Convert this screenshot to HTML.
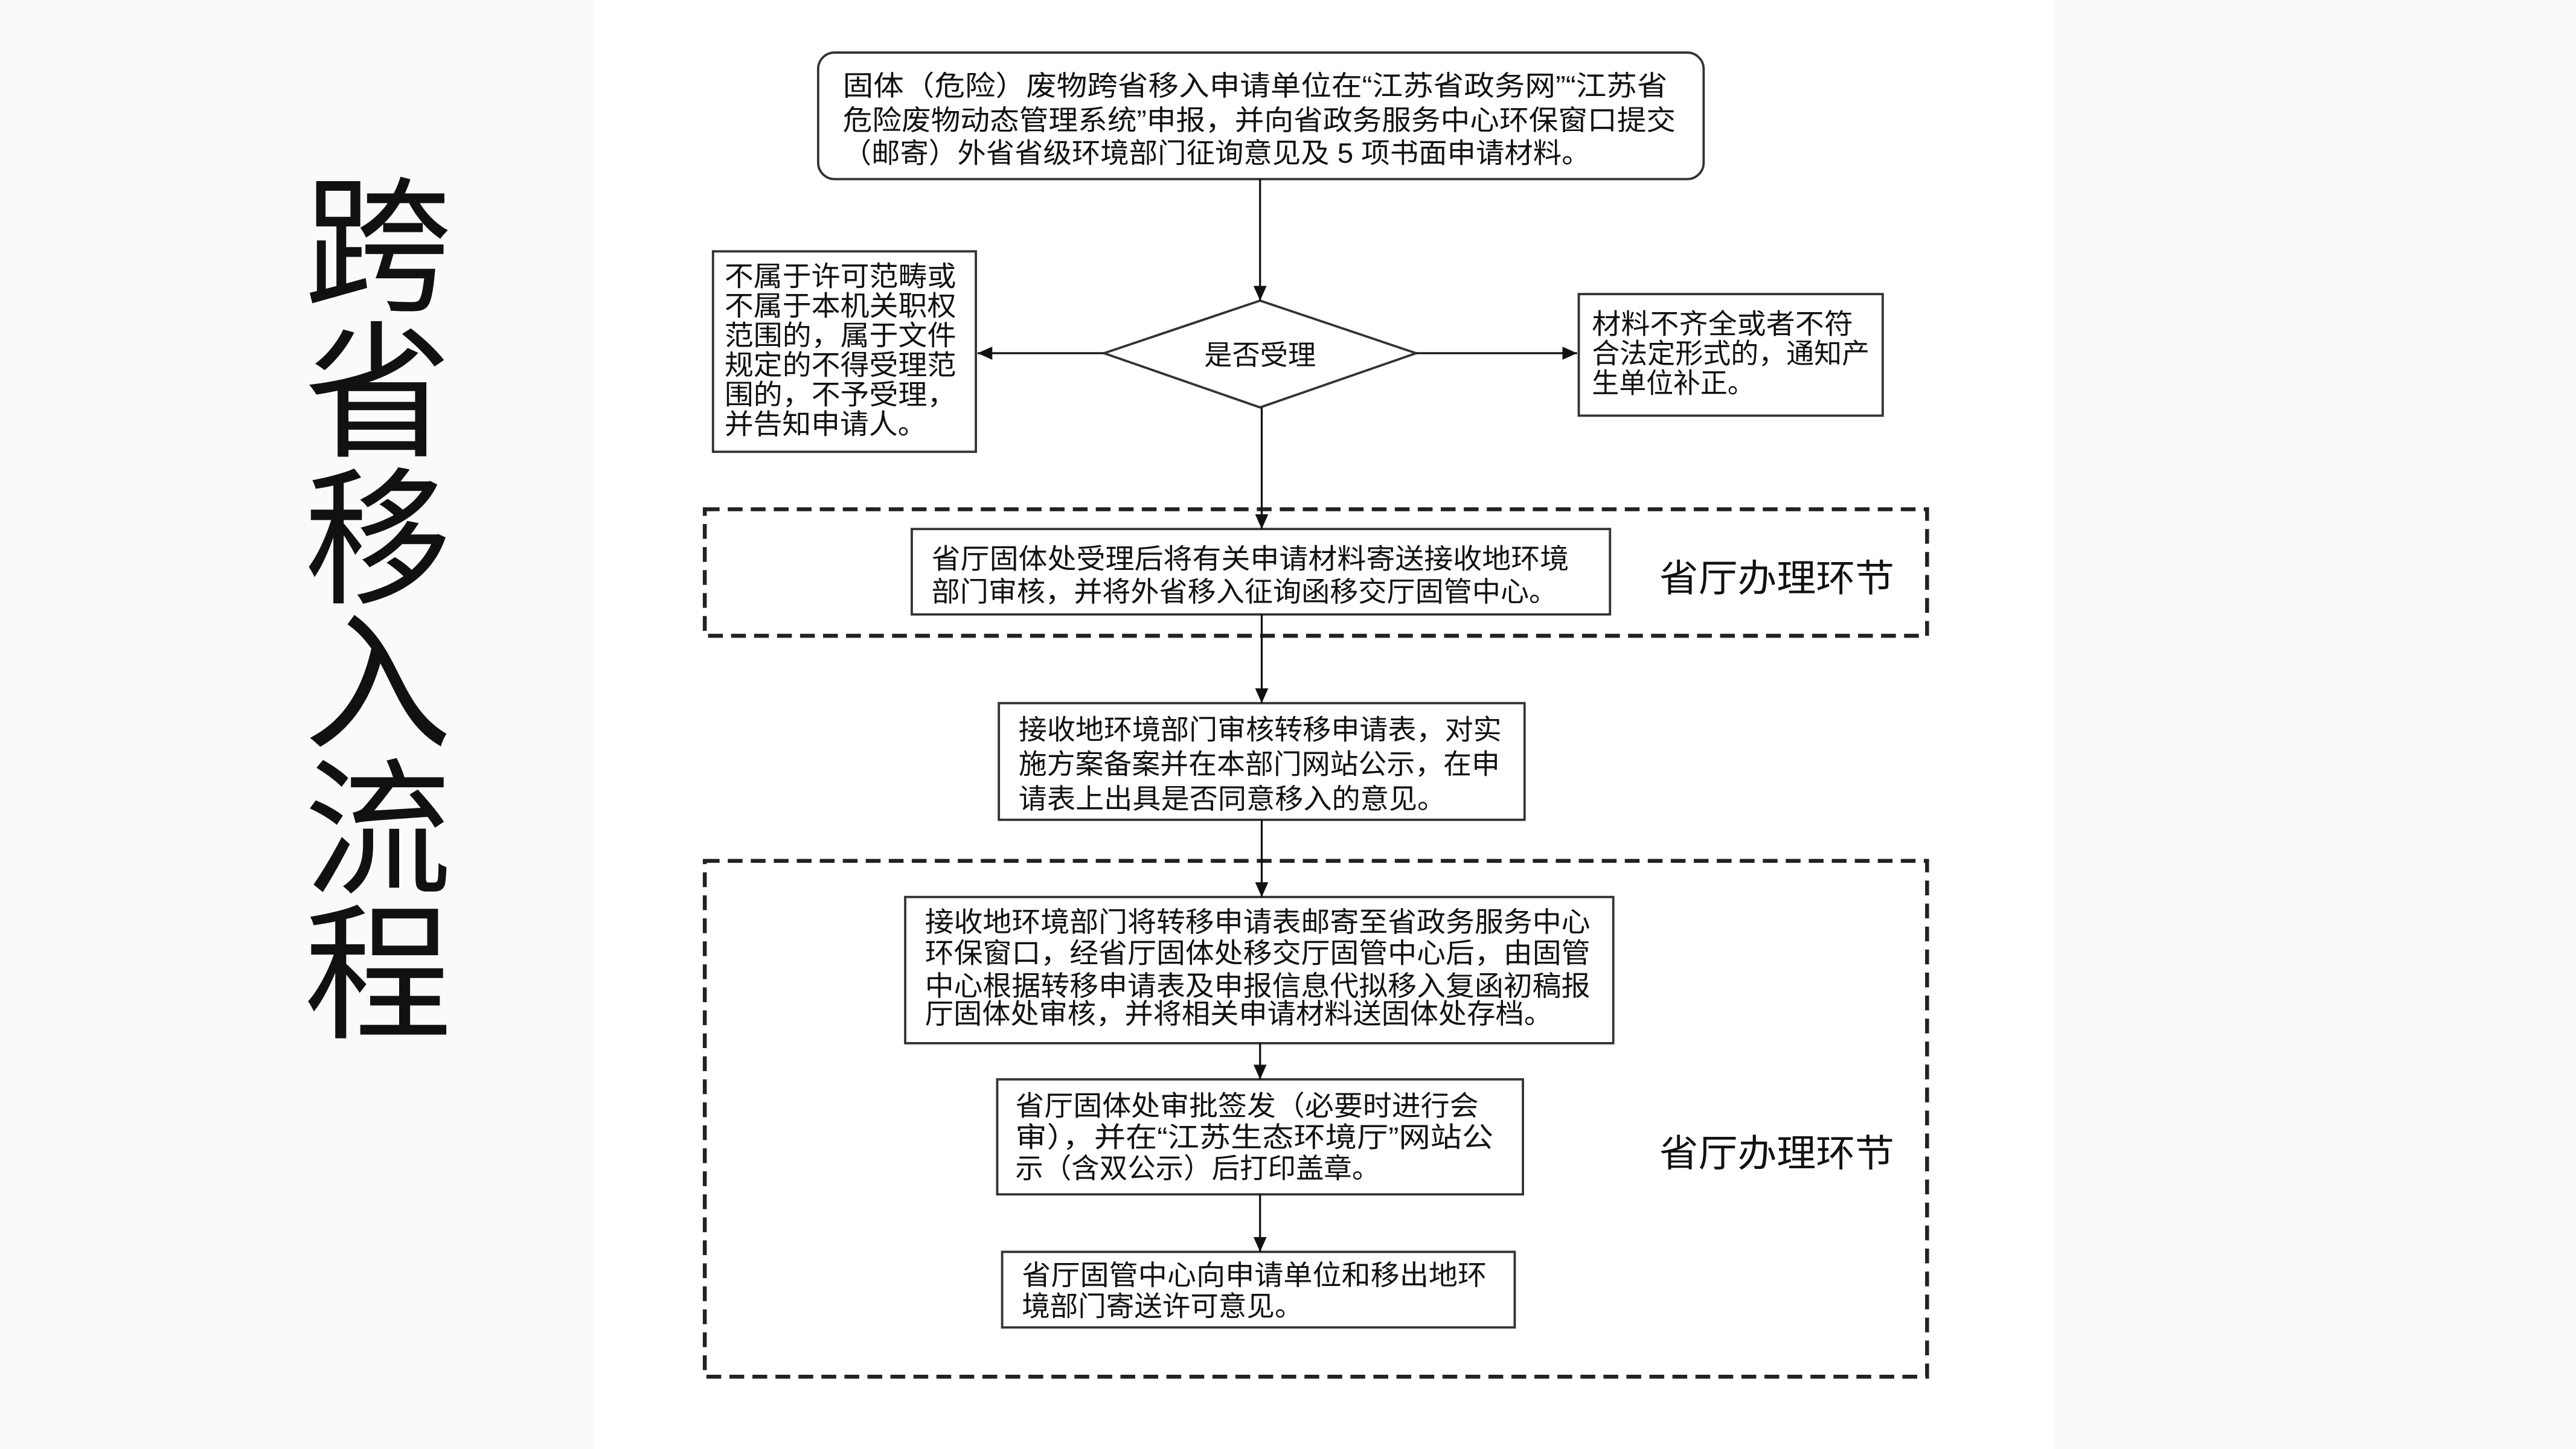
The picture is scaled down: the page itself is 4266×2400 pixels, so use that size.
<!DOCTYPE html>
<html><head><meta charset="utf-8"><style>
html,body{margin:0;padding:0;width:4266px;height:2400px;overflow:hidden;background:#fafafa}
svg{display:block}
text{font-family:"Liberation Sans","Noto Sans CJK SC",sans-serif;fill:#111}
</style></head><body>
<svg width="4266" height="2400" viewBox="0 0 1568 882" preserveAspectRatio="none" xmlns="http://www.w3.org/2000/svg">
<defs><marker id="a" markerWidth="10" markerHeight="10" refX="9" refY="5" orient="auto" markerUnits="userSpaceOnUse"><path d="M0,1 L9,5 L0,9 Z" fill="#111"/></marker></defs>
<rect x="0" y="0" width="1568" height="882" fill="#fafafa"/>
<rect x="362" y="0" width="888" height="882" fill="#ffffff"/>
<g font-size="90" text-anchor="middle">
<text x="230" y="182">跨</text><text x="230" y="271">省</text><text x="230" y="360">移</text><text x="230" y="448">入</text><text x="230" y="537">流</text><text x="230" y="625">程</text>
</g>
<g fill="none" stroke="#222" stroke-width="2.4" stroke-dasharray="9,5">
<rect x="429" y="310" width="744" height="77"/>
<rect x="429" y="524" width="744" height="314"/>
</g>
<g fill="#fff" stroke="#333" stroke-width="1.4">
<rect x="498" y="32" width="539" height="77" rx="10"/>
<polygon points="767,183 862,215 767,248 672,215"/>
<rect x="434" y="153" width="160" height="122"/>
<rect x="961" y="179" width="185" height="74"/>
<rect x="555" y="322" width="425" height="52"/>
<rect x="608" y="428" width="320" height="71"/>
<rect x="551" y="546" width="431" height="89"/>
<rect x="607" y="657" width="320" height="70"/>
<rect x="610" y="762" width="312" height="46"/>
</g>
<g stroke="#111" stroke-width="1.2" marker-end="url(#a)">
<line x1="767" y1="109" x2="767" y2="183"/>
<line x1="672" y1="215" x2="595" y2="215"/>
<line x1="862" y1="215" x2="960" y2="215"/>
<line x1="768" y1="248" x2="768" y2="322"/>
<line x1="768" y1="374" x2="768" y2="428"/>
<line x1="768" y1="499" x2="768" y2="546"/>
<line x1="767" y1="635" x2="767" y2="657"/>
<line x1="767" y1="727" x2="767" y2="762"/>
</g>
<g font-size="17">
<text x="513" y="58" textLength="502" lengthAdjust="spacingAndGlyphs">固体（危险）废物跨省移入申请单位在“江苏省政务网”“江苏省</text>
<text x="513" y="79" textLength="507" lengthAdjust="spacingAndGlyphs">危险废物动态管理系统”申报，并向省政务服务中心环保窗口提交</text>
<text x="513" y="99" textLength="455" lengthAdjust="spacingAndGlyphs">（邮寄）外省省级环境部门征询意见及 5 项书面申请材料。</text>
<text x="767" y="222" text-anchor="middle">是否受理</text>
<text x="441" y="174" textLength="141" lengthAdjust="spacingAndGlyphs">不属于许可范畴或</text>
<text x="441" y="192" textLength="141" lengthAdjust="spacingAndGlyphs">不属于本机关职权</text>
<text x="441" y="210" textLength="141" lengthAdjust="spacingAndGlyphs">范围的，属于文件</text>
<text x="441" y="228" textLength="141" lengthAdjust="spacingAndGlyphs">规定的不得受理范</text>
<text x="441" y="246" textLength="141" lengthAdjust="spacingAndGlyphs">围的，不予受理，</text>
<text x="441" y="264" textLength="123" lengthAdjust="spacingAndGlyphs">并告知申请人。</text>
<text x="969" y="203" textLength="159" lengthAdjust="spacingAndGlyphs">材料不齐全或者不符</text>
<text x="969" y="221" textLength="169" lengthAdjust="spacingAndGlyphs">合法定形式的，通知产</text>
<text x="969" y="239" textLength="99" lengthAdjust="spacingAndGlyphs">生单位补正。</text>
<text x="567" y="346" textLength="388" lengthAdjust="spacingAndGlyphs">省厅固体处受理后将有关申请材料寄送接收地环境</text>
<text x="567" y="366" textLength="381" lengthAdjust="spacingAndGlyphs">部门审核，并将外省移入征询函移交厅固管中心。</text>
<text x="620" y="450" textLength="294" lengthAdjust="spacingAndGlyphs">接收地环境部门审核转移申请表，对实</text>
<text x="620" y="471" textLength="293" lengthAdjust="spacingAndGlyphs">施方案备案并在本部门网站公示，在申</text>
<text x="620" y="492" textLength="260" lengthAdjust="spacingAndGlyphs">请表上出具是否同意移入的意见。</text>
<text x="563" y="567" textLength="405" lengthAdjust="spacingAndGlyphs">接收地环境部门将转移申请表邮寄至省政务服务中心</text>
<text x="563" y="586" textLength="405" lengthAdjust="spacingAndGlyphs">环保窗口，经省厅固体处移交厅固管中心后，由固管</text>
<text x="563" y="606" textLength="405" lengthAdjust="spacingAndGlyphs">中心根据转移申请表及申报信息代拟移入复函初稿报</text>
<text x="563" y="623" textLength="382" lengthAdjust="spacingAndGlyphs">厅固体处审核，并将相关申请材料送固体处存档。</text>
<text x="618" y="679" textLength="282" lengthAdjust="spacingAndGlyphs">省厅固体处审批签发（必要时进行会</text>
<text x="618" y="698" textLength="291" lengthAdjust="spacingAndGlyphs">审），并在“江苏生态环境厅”网站公</text>
<text x="618" y="717" textLength="222" lengthAdjust="spacingAndGlyphs">示（含双公示）后打印盖章。</text>
<text x="622" y="782" textLength="283" lengthAdjust="spacingAndGlyphs">省厅固管中心向申请单位和移出地环</text>
<text x="622" y="801" textLength="171" lengthAdjust="spacingAndGlyphs">境部门寄送许可意见。</text>
</g>
<g font-size="23">
<text x="1010" y="360" textLength="143" lengthAdjust="spacingAndGlyphs">省厅办理环节</text>
<text x="1010" y="710" textLength="143" lengthAdjust="spacingAndGlyphs">省厅办理环节</text>
</g>
</svg>
</body></html>
